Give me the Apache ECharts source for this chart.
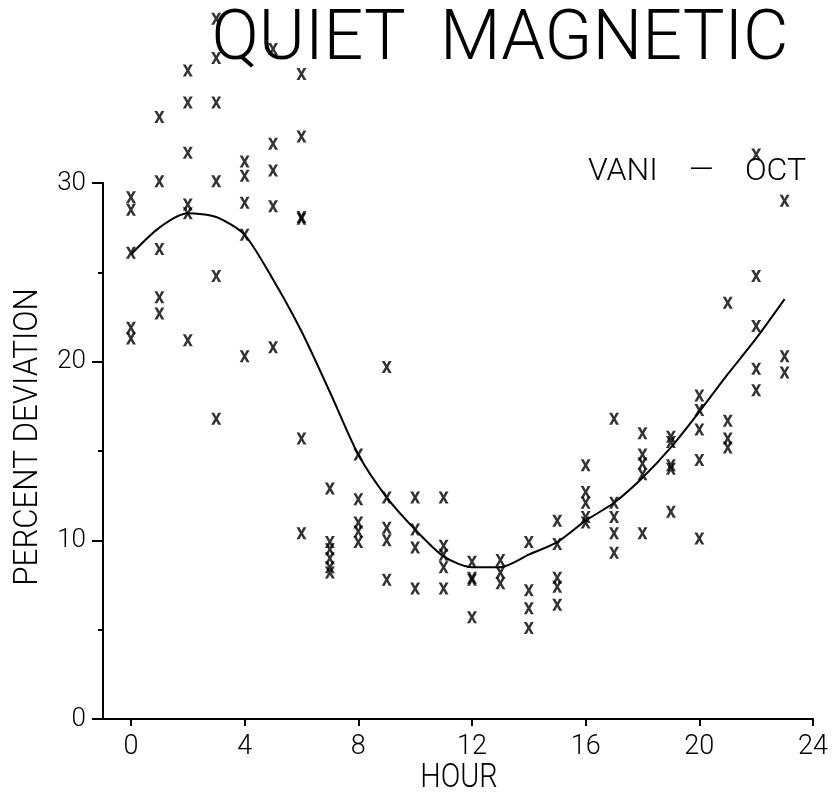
<!DOCTYPE html>
<html><head><meta charset="utf-8">
<script src="https://cdn.jsdelivr.net/npm/echarts@6/dist/echarts.min.js"></script>
<style>html,body{margin:0;padding:0;background:#fff}#c{width:834px;height:794px}</style>
</head><body><div id="c"></div>
<script>
const hours = [0,1,2,3,4,5,6,7,8,9,10,11,12,13,14,15,16,17,18,19,20,21,22,23];
const deviationByHour = [
  [29.2, 28.5, 26.1, 21.9, 21.3],
  [33.7, 30.1, 26.3, 23.6, 22.7],
  [36.3, 34.5, 31.7, 28.8, 28.3, 21.2],
  [39.2, 37.0, 34.5, 30.1, 24.8, 16.8],
  [31.2, 30.4, 28.9, 27.1, 20.3],
  [37.5, 32.2, 30.7, 28.7, 20.8],
  [36.1, 32.6, 28.1, 28.0, 15.7, 10.4],
  [12.9, 9.9, 9.5, 9.0, 8.5, 8.2],
  [14.8, 12.3, 11.0, 10.5, 9.9],
  [19.7, 12.4, 10.7, 10.0, 7.8],
  [12.4, 10.6, 9.6, 7.3],
  [12.4, 9.7, 9.2, 8.5, 7.3],
  [8.8, 7.9, 7.8, 5.7],
  [8.9, 8.2, 7.6],
  [9.9, 7.2, 6.2, 5.1],
  [11.1, 9.8, 7.9, 7.4, 6.4],
  [14.2, 12.7, 12.1, 11.3, 11.0],
  [16.8, 12.1, 11.3, 10.4, 9.3],
  [16.0, 14.8, 14.3, 13.7, 10.4],
  [15.8, 15.5, 14.2, 14.0, 11.6],
  [18.1, 17.3, 16.2, 14.5, 10.1],
  [23.3, 16.7, 15.7, 15.2],
  [31.6, 24.8, 22.0, 19.6, 18.4],
  [29.0, 20.3, 19.4]
];
const curveHours = [0,1,2,3,4,5,6,7,8,9,10,11,12,13,14,15,16,17,18,19,20,21,22,23];
const curveValues = [26.0,27.5,28.3,28.1,27.1,24.6,21.7,18.3,14.8,12.4,10.6,9.1,8.5,8.5,9.2,9.9,11.1,12.1,13.5,15.2,17.2,19.3,21.3,23.5];
const xTickValues = [0,4,8,12,16,20,24];

const scatterData = [];
hours.forEach((h, i) => deviationByHour[i].forEach(v => scatterData.push([h, v])));
const curveData = curveHours.map((h, i) => [h, curveValues[i]]);

const FONT = 'Roboto, "Liberation Sans", sans-serif';
const chart = echarts.init(document.getElementById('c'), null, {renderer: 'canvas'});
chart.setOption({
  animation: false,
  backgroundColor: '#fff',
  grid: {left: 94, right: 21, top: 183, bottom: 75, containLabel: false},
  graphic: [
    {type: 'text', x: 500, y: 41, scaleX: 1.0,
     style: {text: 'QUIET  MAGNETIC', font: '300 70px ' + FONT, fill: '#000', align: 'center', verticalAlign: 'middle'}},
    {type: 'text', x: 697, y: 172,
     style: {text: 'VANI    \u2014    OCT', font: '300 32px ' + FONT, fill: '#000', align: 'center', verticalAlign: 'middle'}},
    {type: 'text', x: 459, y: 778, scaleX: 0.85,
     style: {text: 'HOUR', font: '300 34px ' + FONT, fill: '#000', align: 'center', verticalAlign: 'middle'}},
    {type: 'text', x: 28, y: 437, rotation: Math.PI / 2, scaleX: 0.92,
     style: {text: 'PERCENT DEVIATION', font: '300 34px ' + FONT, fill: '#000', align: 'center', verticalAlign: 'middle'}}
  ],
  xAxis: {
    type: 'value', min: -1.3, max: 24,
    axisLine: {onZero: false, lineStyle: {color: '#000', width: 2}},
    axisTick: {show: true, inside: false, length: 7, customValues: xTickValues, lineStyle: {color: '#000', width: 2}},
    axisLabel: {customValues: xTickValues, fontFamily: FONT, fontWeight: 300, fontSize: 27, color: '#000', margin: 15},
    splitLine: {show: false}
  },
  yAxis: {
    type: 'value', min: 0, max: 30, interval: 10, offset: -9,
    axisLine: {show: true, onZero: false, lineStyle: {color: '#000', width: 2}},
    axisTick: {show: true, inside: false, length: 11, lineStyle: {color: '#000', width: 2}},
    minorTick: {show: true, splitNumber: 2, length: 5, lineStyle: {color: '#000', width: 2}},
    axisLabel: {fontFamily: FONT, fontWeight: 300, fontSize: 26, color: '#000', margin: 17},
    splitLine: {show: false}, minorSplitLine: {show: false}
  },
  series: [
    {type: 'line', data: curveData, showSymbol: false, symbol: 'none', smooth: 0.25,
     lineStyle: {color: '#000', width: 2}, z: 2, clip: false},
    {type: 'scatter', data: scatterData, clip: false, z: 3,
     symbol: 'path://M0,0H3L5,3.8L7,0H10L6.5,6L10,12H7L5,8.2L3,12H0L3.5,6Z',
     symbolSize: [10, 12], itemStyle: {color: '#000'}}
  ]
});
</script></body></html>
